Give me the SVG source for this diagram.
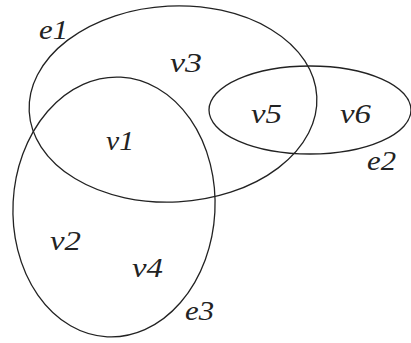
<svg xmlns="http://www.w3.org/2000/svg" width="411" height="343" viewBox="0 0 411 343">
<style>
.e{fill:none;stroke:#222;stroke-width:1.3}
.t{font-family:'Liberation Serif','Times New Roman',serif;font-style:italic;font-size:28px;fill:#222}
</style>
<rect width="411" height="343" fill="#fff"/>
<g id="edges">
<g id="e1"><ellipse class="e" cx="173" cy="104" rx="144" ry="98" transform="rotate(-3 173 104)"/><text class="t" x="39" y="39" textLength="29" lengthAdjust="spacingAndGlyphs">e1</text></g>
<g id="e2"><ellipse class="e" cx="310" cy="110" rx="101" ry="44"/><text class="t" x="367" y="170" textLength="29" lengthAdjust="spacingAndGlyphs">e2</text></g>
<g id="e3"><ellipse class="e" cx="114" cy="207" rx="101" ry="130" transform="rotate(3 114 207)"/><text class="t" x="185" y="320" textLength="29" lengthAdjust="spacingAndGlyphs">e3</text></g>
</g>
<g id="v1"><text class="t" x="106" y="150" textLength="28" lengthAdjust="spacingAndGlyphs">v1</text></g>
<g id="v2"><text class="t" x="50" y="250" textLength="31" lengthAdjust="spacingAndGlyphs">v2</text></g>
<g id="v3"><text class="t" x="170" y="72" textLength="32" lengthAdjust="spacingAndGlyphs">v3</text></g>
<g id="v4"><text class="t" x="132" y="277" textLength="31" lengthAdjust="spacingAndGlyphs">v4</text></g>
<g id="v5"><text class="t" x="251" y="123" textLength="31" lengthAdjust="spacingAndGlyphs">v5</text></g>
<g id="v6"><text class="t" x="340" y="123" textLength="31" lengthAdjust="spacingAndGlyphs">v6</text></g>
</svg>
